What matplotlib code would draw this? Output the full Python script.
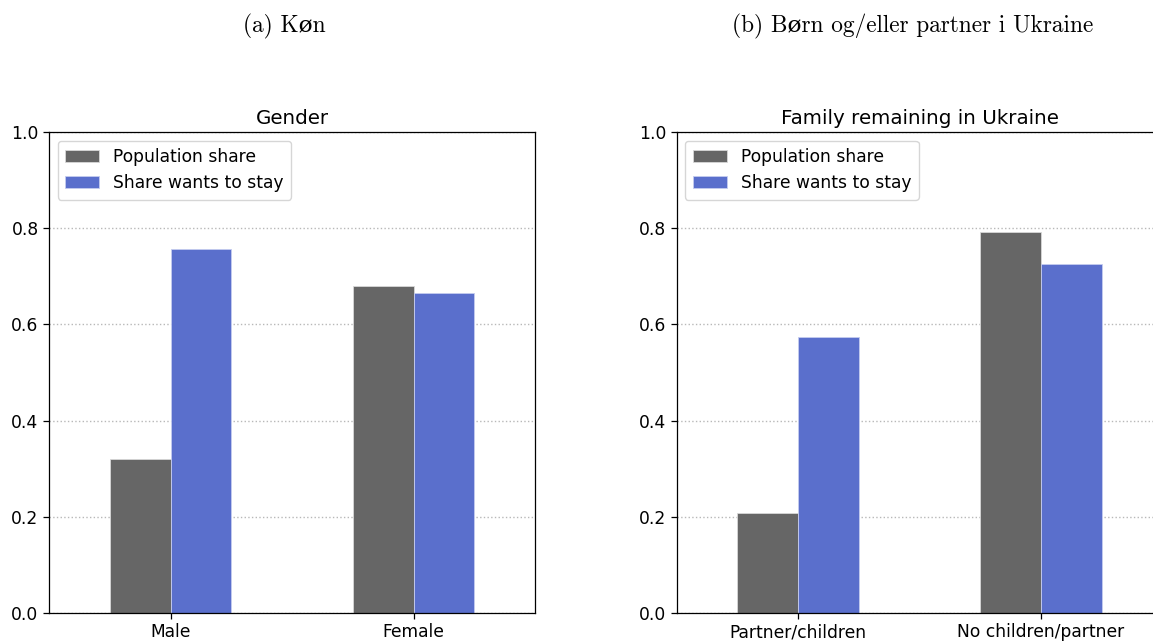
import matplotlib
matplotlib.use("Agg")
import matplotlib.pyplot as plt
import numpy as np

# Data
gender_categories = ["Male", "Female"]
gender_population_share = [0.320, 0.680]
gender_wants_to_stay = [0.756, 0.665]

family_categories = ["Partner/children", "No children/partner"]
family_population_share = [0.207, 0.792]
family_wants_to_stay = [0.574, 0.726]

series_labels = ["Population share", "Share wants to stay"]
yticks = [0.0, 0.2, 0.4, 0.6, 0.8, 1.0]

panel_titles = ["Gender", "Family remaining in Ukraine"]
captions = ["(a) Køn", "(b) Børn og/eller partner i Ukraine"]

GREY = "#666666"
BLUE = "#5a6fcc"

W, H = 1153, 642
fig = plt.figure(figsize=(W / 100, H / 100), dpi=100)

ax_w = 486 / W
ax_h = 481 / H
ax_b = (H - 613) / H
axes = [fig.add_axes([49 / W, ax_b, ax_w, ax_h]),
        fig.add_axes([676.5 / W, ax_b, ax_w, ax_h])]

datasets = [
    (gender_categories, gender_population_share, gender_wants_to_stay),
    (family_categories, family_population_share, family_wants_to_stay),
]

bw = 0.25
for ax, (cats, pop, stay), title in zip(axes, datasets, panel_titles):
    x = np.arange(len(cats))
    ax.bar(x - bw / 2, pop, width=bw, color=GREY, edgecolor="#d8d8d8",
           linewidth=0.6, label=series_labels[0], zorder=2)
    ax.bar(x + bw / 2, stay, width=bw, color=BLUE, edgecolor="#c5ccef",
           linewidth=0.6, label=series_labels[1], zorder=2)
    ax.set_xlim(-0.5, 1.5)
    ax.set_ylim(0, 1.0)
    ax.set_xticks(x)
    ax.set_xticklabels(cats, fontsize=12.3)
    ax.set_yticks(yticks)
    ax.set_yticklabels([f"{v:.1f}" for v in yticks], fontsize=12.3)
    ax.tick_params(length=4, width=0.9, pad=3.5)
    for s in ax.spines.values():
        s.set_linewidth(0.9)
    ax.yaxis.grid(True, linestyle=":", color="#b8b8b8", linewidth=1.0, zorder=0)
    ax.set_axisbelow(True)
    ax.set_title(title, fontsize=14.3, pad=6)
    ax.legend(loc="upper left", fontsize=12.3, handlelength=2.0, borderpad=0.45,
              labelspacing=0.45)

serif = ["cmr10", "DejaVu Serif"]
fig.text(284 / W, 1 - 26 / H, captions[0], ha="center", va="center",
         fontsize=16.8, family=serif)
fig.text(913 / W, 1 - 26 / H, captions[1], ha="center", va="center",
         fontsize=16.8, family=serif)

fig.savefig("out.png", dpi=100)
